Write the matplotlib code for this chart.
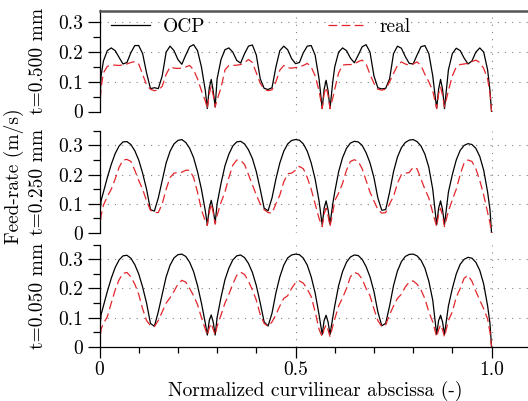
import matplotlib
matplotlib.use("Agg")
import matplotlib.pyplot as plt

plt.rcParams['font.family'] = 'serif'
plt.rcParams['font.serif'] = ['cmr10', 'DejaVu Serif']
plt.rcParams['axes.formatter.use_mathtext'] = True

# abscissa shared by all curves
x = [0, 0.004, 0.01, 0.02, 0.03, 0.04, 0.05, 0.06, 0.07, 0.08, 0.09,
     0.10, 0.11, 0.12, 0.13, 0.14, 0.15, 0.16, 0.17, 0.18, 0.19,
     0.20, 0.21, 0.22, 0.23, 0.24, 0.25, 0.26, 0.27,
     0.275, 0.28, 0.285, 0.29, 0.295, 0.30,
     0.31, 0.32, 0.33, 0.34, 0.35, 0.36, 0.37, 0.38, 0.39, 0.40,
     0.41, 0.42, 0.43, 0.44, 0.45, 0.46, 0.47, 0.48, 0.49, 0.50,
     0.51, 0.52, 0.53, 0.54, 0.55, 0.56,
     0.568, 0.573, 0.578, 0.583, 0.588, 0.595,
     0.60, 0.61, 0.62, 0.63, 0.64, 0.65, 0.66, 0.67, 0.68, 0.69,
     0.70, 0.71, 0.72, 0.73, 0.74, 0.75, 0.76, 0.77, 0.78, 0.79,
     0.80, 0.81, 0.82, 0.83, 0.84, 0.85, 0.86,
     0.865, 0.87, 0.875, 0.88,
     0.89, 0.90, 0.91, 0.92, 0.93, 0.94, 0.95, 0.96, 0.97, 0.98, 0.99,
     0.996, 1.0]

# t = 0.500 mm
ocp_500 = [0.0, 0.12, 0.17, 0.205, 0.214, 0.205, 0.182, 0.16, 0.165, 0.198, 0.222,
           0.222, 0.195, 0.13, 0.077, 0.08, 0.077, 0.12, 0.2, 0.22, 0.205,
           0.175, 0.159, 0.19, 0.218, 0.225, 0.205, 0.15, 0.07,
           0.01, 0.08, 0.108, 0.07, 0.015, 0.11,
           0.175, 0.208, 0.214, 0.2, 0.172, 0.163, 0.195, 0.22, 0.224, 0.19,
           0.11, 0.078, 0.074, 0.08, 0.15, 0.205, 0.22, 0.208, 0.178, 0.161,
           0.165, 0.198, 0.22, 0.222, 0.19, 0.11,
           0.01, 0.075, 0.105, 0.07, 0.01, 0.1,
           0.15, 0.2, 0.214, 0.205, 0.18, 0.164, 0.19, 0.218, 0.225, 0.2,
           0.12, 0.08, 0.076, 0.078, 0.11, 0.195, 0.22, 0.213, 0.185, 0.162,
           0.16, 0.19, 0.218, 0.222, 0.195, 0.12, 0.01,
           0.075, 0.108, 0.075, 0.01,
           0.14, 0.195, 0.213, 0.205, 0.18, 0.16, 0.17, 0.2, 0.214, 0.2, 0.14,
           0.07, 0.0]
real_500 = [0.0, 0.08, 0.13, 0.152, 0.156, 0.156, 0.155, 0.157, 0.16, 0.165, 0.168,
            0.16, 0.125, 0.09, 0.075, 0.07, 0.072, 0.085, 0.125, 0.15, 0.146,
            0.145, 0.146, 0.15, 0.155, 0.14, 0.11, 0.07, 0.035,
            0.01, 0.06, 0.085, 0.055, 0.015, 0.04,
            0.08, 0.14, 0.155, 0.155, 0.156, 0.158, 0.165, 0.175, 0.165, 0.13,
            0.095, 0.075, 0.07, 0.073, 0.1, 0.139, 0.155, 0.147, 0.146, 0.148,
            0.15, 0.155, 0.162, 0.15, 0.12, 0.07,
            0.01, 0.06, 0.082, 0.055, 0.01, 0.045,
            0.075, 0.13, 0.156, 0.158, 0.158, 0.16, 0.168, 0.173, 0.16, 0.125,
            0.095, 0.075, 0.072, 0.075, 0.1, 0.128, 0.155, 0.167, 0.16, 0.156,
            0.16, 0.167, 0.155, 0.125, 0.1, 0.07, 0.01,
            0.06, 0.082, 0.055, 0.015,
            0.07, 0.12, 0.15, 0.158, 0.16, 0.162, 0.168, 0.173, 0.165, 0.145, 0.11,
            0.06, 0.0]

# t = 0.250 mm
ocp_250 = [0.05, 0.11, 0.14, 0.19, 0.235, 0.272, 0.298, 0.312, 0.313, 0.303, 0.282,
           0.25, 0.205, 0.15, 0.08, 0.075, 0.12, 0.18, 0.24, 0.28, 0.305,
           0.317, 0.32, 0.31, 0.29, 0.258, 0.21, 0.15, 0.075,
           0.028, 0.085, 0.112, 0.08, 0.034, 0.1,
           0.17, 0.23, 0.27, 0.298, 0.312, 0.314, 0.305, 0.285, 0.255, 0.21,
           0.15, 0.085, 0.076, 0.12, 0.185, 0.24, 0.28, 0.305, 0.317, 0.32,
           0.318, 0.305, 0.28, 0.24, 0.185, 0.11,
           0.028, 0.085, 0.11, 0.08, 0.03, 0.1,
           0.14, 0.21, 0.258, 0.29, 0.308, 0.314, 0.312, 0.3, 0.275, 0.24,
           0.19, 0.12, 0.078, 0.08, 0.14, 0.21, 0.26, 0.292, 0.31, 0.318,
           0.32, 0.313, 0.298, 0.27, 0.225, 0.15, 0.028,
           0.085, 0.11, 0.08, 0.028,
           0.14, 0.2, 0.25, 0.283, 0.3, 0.306, 0.303, 0.29, 0.262, 0.215, 0.14,
           0.08, 0.0]
real_250 = [0.0, 0.06, 0.095, 0.125, 0.15, 0.185, 0.225, 0.25, 0.252, 0.245, 0.215,
            0.18, 0.15, 0.11, 0.078, 0.07, 0.07, 0.1, 0.15, 0.19, 0.205,
            0.207, 0.208, 0.215, 0.215, 0.19, 0.14, 0.08, 0.04,
            0.026, 0.07, 0.1, 0.07, 0.03, 0.06,
            0.105, 0.14, 0.19, 0.232, 0.25, 0.248, 0.235, 0.2, 0.165, 0.13,
            0.1, 0.08, 0.07, 0.068, 0.1, 0.13, 0.175, 0.203, 0.205, 0.215,
            0.228, 0.22, 0.19, 0.15, 0.1, 0.05,
            0.022, 0.065, 0.085, 0.06, 0.022, 0.07,
            0.11, 0.137, 0.17, 0.215, 0.245, 0.251, 0.245, 0.22, 0.18, 0.14,
            0.11, 0.08, 0.068, 0.07, 0.1, 0.125, 0.17, 0.2, 0.205, 0.207,
            0.225, 0.22, 0.185, 0.15, 0.12, 0.07, 0.022,
            0.065, 0.085, 0.06, 0.022,
            0.075, 0.114, 0.15, 0.2, 0.24, 0.25, 0.245, 0.22, 0.18, 0.13, 0.07,
            0.035, 0.0]

# t = 0.050 mm
ocp_050 = [0.05, 0.11, 0.14, 0.19, 0.235, 0.272, 0.298, 0.312, 0.314, 0.304, 0.282,
           0.25, 0.205, 0.15, 0.08, 0.07, 0.12, 0.18, 0.24, 0.28, 0.305,
           0.316, 0.318, 0.31, 0.29, 0.258, 0.21, 0.15, 0.08,
           0.04, 0.09, 0.109, 0.085, 0.04, 0.1,
           0.17, 0.23, 0.27, 0.298, 0.312, 0.315, 0.306, 0.286, 0.255, 0.21,
           0.15, 0.085, 0.071, 0.115, 0.185, 0.24, 0.28, 0.305, 0.315, 0.318,
           0.316, 0.304, 0.28, 0.24, 0.185, 0.11,
           0.042, 0.09, 0.108, 0.085, 0.042, 0.1,
           0.14, 0.21, 0.258, 0.29, 0.308, 0.315, 0.313, 0.3, 0.275, 0.24,
           0.19, 0.12, 0.072, 0.08, 0.14, 0.21, 0.26, 0.292, 0.31, 0.317,
           0.318, 0.312, 0.297, 0.27, 0.225, 0.16, 0.042,
           0.09, 0.108, 0.085, 0.042,
           0.14, 0.2, 0.25, 0.283, 0.3, 0.307, 0.304, 0.29, 0.262, 0.215, 0.14,
           0.08, 0.0]
real_050 = [0.0, 0.06, 0.08, 0.103, 0.15, 0.195, 0.23, 0.252, 0.255, 0.24, 0.215,
            0.18, 0.13, 0.09, 0.072, 0.069, 0.09, 0.12, 0.15, 0.168, 0.19,
            0.215, 0.228, 0.222, 0.2, 0.175, 0.145, 0.1, 0.06,
            0.04, 0.065, 0.08, 0.06, 0.04, 0.07,
            0.109, 0.15, 0.18, 0.215, 0.245, 0.256, 0.248, 0.225, 0.195, 0.16,
            0.11, 0.08, 0.07, 0.085, 0.11, 0.14, 0.166, 0.175, 0.2, 0.22,
            0.226, 0.218, 0.198, 0.172, 0.12, 0.06,
            0.034, 0.06, 0.075, 0.058, 0.034, 0.07,
            0.095, 0.14, 0.168, 0.2, 0.24, 0.255, 0.25, 0.232, 0.2, 0.175,
            0.13, 0.09, 0.069, 0.075, 0.11, 0.14, 0.166, 0.18, 0.205, 0.222,
            0.226, 0.215, 0.195, 0.165, 0.12, 0.085, 0.034,
            0.058, 0.075, 0.058, 0.034,
            0.09, 0.12, 0.17, 0.2, 0.235, 0.245, 0.225, 0.19, 0.16, 0.13, 0.095,
            0.05, 0.0]

panel_labels = ["t=0.500 mm", "t=0.250 mm", "t=0.050 mm"]
ocp_series = [ocp_500, ocp_250, ocp_050]
real_series = [real_500, real_250, real_050]
yticks = [0, 0.1, 0.2, 0.3]
ytick_labels = ["0", "0.1", "0.2", "0.3"]
xticks = [0, 0.5, 1.0]
xtick_labels = ["0", "0.5", "1.0"]

W, H = 528, 401
fig = plt.figure(figsize=(W / 100, H / 100), dpi=100)

# pixel boxes: (zero line y, top y), with upper y limit
boxes = [(111.5, 10.5, 0.34), (233.0, 130.8, 0.35), (346.7, 244.8, 0.35)]
left_px = 99.5
red = '#e3262c'
fs = 14
grid_kw = dict(color='#808080', linestyle=(0, (1, 5.5)), linewidth=0.8)

axes = []
for i, (y0, y1, ytop) in enumerate(boxes):
    ax = fig.add_axes([left_px / W, 1 - y0 / H, 1 - left_px / W, (y0 - y1) / H])
    axes.append(ax)
    ax.plot(x, ocp_series[i], color='black', lw=0.9, label='OCP')
    ax.plot(x, real_series[i], color=red, lw=0.9, dashes=(7, 3.5), label='real')
    ax.set_xlim(0, 1.093)
    ax.set_ylim(0, ytop)
    ax.set_yticks(yticks)
    ax.set_yticklabels(ytick_labels)
    minor_y = [0.05, 0.15, 0.25] + ([0.35] if ytop >= 0.35 else [])
    ax.set_yticks(minor_y, minor=True)
    ax.set_xticks(xticks)
    ax.set_xticks([0.1, 0.2, 0.3, 0.4, 0.6, 0.7, 0.8, 0.9], minor=True)
    ax.grid(True, which='major', **grid_kw)
    ax.tick_params(axis='y', which='major', direction='out', length=9, width=0.9,
                   labelsize=fs, pad=3)
    ax.tick_params(axis='y', which='minor', direction='out', length=5, width=0.9)
    ax.spines['right'].set_visible(False)
    ax.spines['left'].set_linewidth(0.9)
    ax.spines['top'].set_visible(False)
    ax.spines['bottom'].set_visible(False)
    if i < 2:
        ax.tick_params(axis='x', which='both', length=0, labelbottom=False)
    else:
        ax.spines['bottom'].set_visible(True)
        ax.spines['bottom'].set_linewidth(0.9)
        ax.set_xticklabels(xtick_labels)
        ax.tick_params(axis='x', which='major', direction='out', length=8, width=0.9,
                       labelsize=fs, pad=2.5)
        ax.tick_params(axis='x', which='minor', direction='out', length=4, width=0.9)
    fig.text(38 / W, 1 - (y0 + y1) / 2 / H, panel_labels[i], rotation=90,
             ha='center', va='center', fontsize=fs)

top = axes[0]
top.spines['top'].set_visible(True)
top.spines['top'].set_color('#555555')
top.spines['top'].set_linewidth(1.8)
top.legend(loc='center left', bbox_to_anchor=(0.027, 0.84), ncol=2, frameon=False,
           fontsize=fs, handlelength=2.0, handletextpad=0.65, columnspacing=6.3,
           borderpad=0, borderaxespad=0)

fig.text(14 / W, 1 - 176 / H, "Feed-rate (m/s)", rotation=90, ha='center',
         va='center', fontsize=fs)
fig.text(315 / W, 1 - 391 / H, "Normalized curvilinear abscissa (-)", ha='center',
         va='center', fontsize=fs)

fig.savefig("out.png", dpi=100)
